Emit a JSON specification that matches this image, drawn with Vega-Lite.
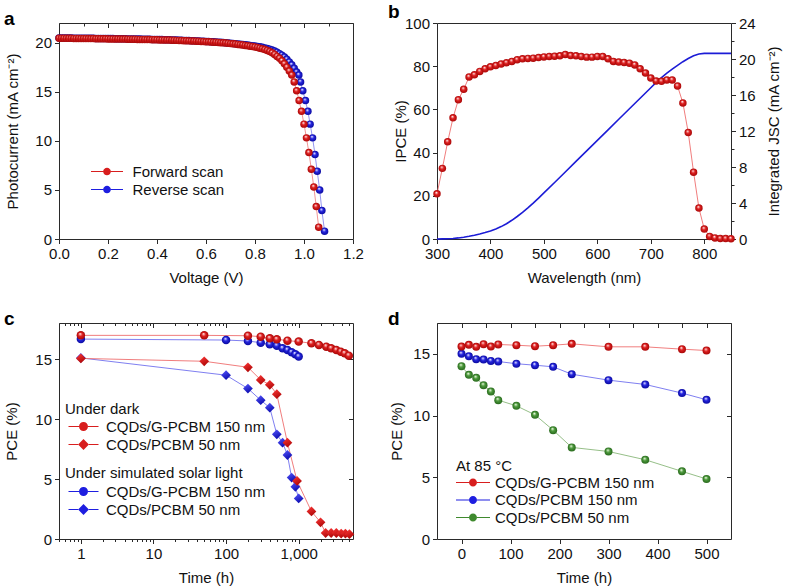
{
"$schema": "https://vega.github.io/schema/vega-lite/v6.json",
"padding": {"left": 3, "top": 2, "right": 2, "bottom": 0},
"background": "white",
"config": {
 "font": "Liberation Sans",
 "view": {"stroke": "#2a2a2a", "strokeWidth": 1},
 "axis": {"grid": false, "domain": false, "tickColor": "#2a2a2a", "tickWidth": 1, "labelFontSize": 15, "titleFontSize": 15, "titleFontWeight": "normal", "labelColor": "#111", "titleColor": "#111", "labelPadding": 3, "titlePadding": 6, "labelOverlap": false, "labelFlush": false},
 "axisBottom": {"titlePadding": 9},
 "legend": {"labelFontSize": 15, "titleFontSize": 15, "titleFontWeight": "normal", "labelColor": "#111", "titleColor": "#111", "labelLimit": 300, "titleLimit": 400, "padding": 0, "symbolStrokeWidth": 0, "symbolOpacity": 1, "clipHeight": 17, "rowPadding": 1},
 "title": {"fontSize": 19, "fontWeight": "bold", "anchor": "start", "frame": "group", "offset": -6, "color": "#000"}
},
"columns": 2,
"spacing": 84,
"bounds": "flush",
"resolve": {"scale": {"fill": "independent", "stroke": "independent", "shape": "independent", "size": "independent"}, "legend": {"fill": "independent", "stroke": "independent", "shape": "independent", "size": "independent"}},
"datasets": {
 "jv": [
  {"s":"R","v":0.00,"j":20.48},{"s":"R","v":0.01,"j":20.48},{"s":"R","v":0.02,"j":20.48},{"s":"R","v":0.03,"j":20.47},{"s":"R","v":0.04,"j":20.47},{"s":"R","v":0.05,"j":20.47},{"s":"R","v":0.06,"j":20.46},{"s":"R","v":0.07,"j":20.46},{"s":"R","v":0.08,"j":20.46},{"s":"R","v":0.09,"j":20.45},
  {"s":"R","v":0.10,"j":20.45},{"s":"R","v":0.11,"j":20.45},{"s":"R","v":0.12,"j":20.44},{"s":"R","v":0.13,"j":20.44},{"s":"R","v":0.14,"j":20.44},{"s":"R","v":0.15,"j":20.43},{"s":"R","v":0.16,"j":20.43},{"s":"R","v":0.17,"j":20.43},{"s":"R","v":0.18,"j":20.42},{"s":"R","v":0.19,"j":20.42},
  {"s":"R","v":0.20,"j":20.41},{"s":"R","v":0.21,"j":20.41},{"s":"R","v":0.22,"j":20.41},{"s":"R","v":0.23,"j":20.40},{"s":"R","v":0.24,"j":20.40},{"s":"R","v":0.25,"j":20.39},{"s":"R","v":0.26,"j":20.39},{"s":"R","v":0.27,"j":20.39},{"s":"R","v":0.28,"j":20.38},{"s":"R","v":0.29,"j":20.38},
  {"s":"R","v":0.30,"j":20.37},{"s":"R","v":0.31,"j":20.37},{"s":"R","v":0.32,"j":20.36},{"s":"R","v":0.33,"j":20.36},{"s":"R","v":0.34,"j":20.35},{"s":"R","v":0.35,"j":20.35},{"s":"R","v":0.36,"j":20.34},{"s":"R","v":0.37,"j":20.34},{"s":"R","v":0.38,"j":20.33},{"s":"R","v":0.39,"j":20.33},
  {"s":"R","v":0.40,"j":20.32},{"s":"R","v":0.41,"j":20.31},{"s":"R","v":0.42,"j":20.31},{"s":"R","v":0.43,"j":20.30},{"s":"R","v":0.44,"j":20.29},{"s":"R","v":0.45,"j":20.29},{"s":"R","v":0.46,"j":20.28},{"s":"R","v":0.47,"j":20.27},{"s":"R","v":0.48,"j":20.26},{"s":"R","v":0.49,"j":20.25},
  {"s":"R","v":0.50,"j":20.24},{"s":"R","v":0.51,"j":20.23},{"s":"R","v":0.52,"j":20.22},{"s":"R","v":0.53,"j":20.21},{"s":"R","v":0.54,"j":20.20},{"s":"R","v":0.55,"j":20.19},{"s":"R","v":0.56,"j":20.18},{"s":"R","v":0.57,"j":20.17},{"s":"R","v":0.58,"j":20.15},{"s":"R","v":0.59,"j":20.14},
  {"s":"R","v":0.60,"j":20.12},{"s":"R","v":0.61,"j":20.11},{"s":"R","v":0.62,"j":20.10},{"s":"R","v":0.63,"j":20.08},{"s":"R","v":0.64,"j":20.07},{"s":"R","v":0.65,"j":20.05},{"s":"R","v":0.66,"j":20.03},{"s":"R","v":0.67,"j":20.01},{"s":"R","v":0.68,"j":19.99},{"s":"R","v":0.69,"j":19.96},
  {"s":"R","v":0.70,"j":19.93},{"s":"R","v":0.71,"j":19.91},{"s":"R","v":0.72,"j":19.88},{"s":"R","v":0.73,"j":19.86},{"s":"R","v":0.74,"j":19.83},{"s":"R","v":0.75,"j":19.81},{"s":"R","v":0.76,"j":19.78},{"s":"R","v":0.77,"j":19.75},{"s":"R","v":0.78,"j":19.72},{"s":"R","v":0.79,"j":19.69},
  {"s":"R","v":0.80,"j":19.65},{"s":"R","v":0.81,"j":19.61},{"s":"R","v":0.82,"j":19.57},{"s":"R","v":0.83,"j":19.52},{"s":"R","v":0.84,"j":19.46},{"s":"R","v":0.85,"j":19.40},{"s":"R","v":0.86,"j":19.33},{"s":"R","v":0.87,"j":19.24},{"s":"R","v":0.88,"j":19.14},{"s":"R","v":0.89,"j":19.02},
  {"s":"R","v":0.90,"j":18.88},{"s":"R","v":0.91,"j":18.72},{"s":"R","v":0.92,"j":18.53},{"s":"R","v":0.93,"j":18.30},{"s":"R","v":0.94,"j":18.04},{"s":"R","v":0.95,"j":17.74},{"s":"R","v":0.96,"j":17.38},{"s":"R","v":0.97,"j":17.00},{"s":"R","v":0.979,"j":16.7},{"s":"R","v":0.986,"j":16.0},
  {"s":"R","v":0.995,"j":15.1},{"s":"R","v":1.006,"j":14.1},{"s":"R","v":1.016,"j":13.0},{"s":"R","v":1.025,"j":11.7},{"s":"R","v":1.035,"j":10.3},{"s":"R","v":1.045,"j":8.6},{"s":"R","v":1.054,"j":6.9},{"s":"R","v":1.064,"j":5.0},{"s":"R","v":1.073,"j":2.9},{"s":"R","v":1.084,"j":0.8},
  {"s":"F","v":0.00,"j":20.45},{"s":"F","v":0.01,"j":20.45},{"s":"F","v":0.02,"j":20.45},{"s":"F","v":0.03,"j":20.44},{"s":"F","v":0.04,"j":20.44},{"s":"F","v":0.05,"j":20.44},{"s":"F","v":0.06,"j":20.43},{"s":"F","v":0.07,"j":20.43},{"s":"F","v":0.08,"j":20.43},{"s":"F","v":0.09,"j":20.42},
  {"s":"F","v":0.10,"j":20.42},{"s":"F","v":0.11,"j":20.42},{"s":"F","v":0.12,"j":20.41},{"s":"F","v":0.13,"j":20.41},{"s":"F","v":0.14,"j":20.41},{"s":"F","v":0.15,"j":20.40},{"s":"F","v":0.16,"j":20.40},{"s":"F","v":0.17,"j":20.40},{"s":"F","v":0.18,"j":20.39},{"s":"F","v":0.19,"j":20.39},
  {"s":"F","v":0.20,"j":20.38},{"s":"F","v":0.21,"j":20.38},{"s":"F","v":0.22,"j":20.38},{"s":"F","v":0.23,"j":20.37},{"s":"F","v":0.24,"j":20.37},{"s":"F","v":0.25,"j":20.36},{"s":"F","v":0.26,"j":20.36},{"s":"F","v":0.27,"j":20.36},{"s":"F","v":0.28,"j":20.35},{"s":"F","v":0.29,"j":20.35},
  {"s":"F","v":0.30,"j":20.34},{"s":"F","v":0.31,"j":20.34},{"s":"F","v":0.32,"j":20.33},{"s":"F","v":0.33,"j":20.33},{"s":"F","v":0.34,"j":20.32},{"s":"F","v":0.35,"j":20.32},{"s":"F","v":0.36,"j":20.31},{"s":"F","v":0.37,"j":20.31},{"s":"F","v":0.38,"j":20.30},{"s":"F","v":0.39,"j":20.30},
  {"s":"F","v":0.40,"j":20.29},{"s":"F","v":0.41,"j":20.28},{"s":"F","v":0.42,"j":20.28},{"s":"F","v":0.43,"j":20.27},{"s":"F","v":0.44,"j":20.26},{"s":"F","v":0.45,"j":20.26},{"s":"F","v":0.46,"j":20.25},{"s":"F","v":0.47,"j":20.24},{"s":"F","v":0.48,"j":20.23},{"s":"F","v":0.49,"j":20.22},
  {"s":"F","v":0.50,"j":20.21},{"s":"F","v":0.51,"j":20.20},{"s":"F","v":0.52,"j":20.19},{"s":"F","v":0.53,"j":20.18},{"s":"F","v":0.54,"j":20.17},{"s":"F","v":0.55,"j":20.16},{"s":"F","v":0.56,"j":20.15},{"s":"F","v":0.57,"j":20.14},{"s":"F","v":0.58,"j":20.12},{"s":"F","v":0.59,"j":20.11},
  {"s":"F","v":0.60,"j":20.09},{"s":"F","v":0.61,"j":20.08},{"s":"F","v":0.62,"j":20.07},{"s":"F","v":0.63,"j":20.05},{"s":"F","v":0.64,"j":20.04},{"s":"F","v":0.65,"j":20.02},{"s":"F","v":0.66,"j":20.00},{"s":"F","v":0.67,"j":19.98},{"s":"F","v":0.68,"j":19.96},{"s":"F","v":0.69,"j":19.93},
  {"s":"F","v":0.70,"j":19.90},{"s":"F","v":0.71,"j":19.88},{"s":"F","v":0.72,"j":19.85},{"s":"F","v":0.73,"j":19.82},{"s":"F","v":0.74,"j":19.79},{"s":"F","v":0.75,"j":19.76},{"s":"F","v":0.76,"j":19.72},{"s":"F","v":0.77,"j":19.68},{"s":"F","v":0.78,"j":19.64},{"s":"F","v":0.79,"j":19.60},
  {"s":"F","v":0.80,"j":19.55},{"s":"F","v":0.81,"j":19.50},{"s":"F","v":0.82,"j":19.44},{"s":"F","v":0.83,"j":19.37},{"s":"F","v":0.84,"j":19.29},{"s":"F","v":0.85,"j":19.20},{"s":"F","v":0.86,"j":19.09},{"s":"F","v":0.87,"j":18.96},{"s":"F","v":0.88,"j":18.80},{"s":"F","v":0.89,"j":18.60},
  {"s":"F","v":0.90,"j":18.40},{"s":"F","v":0.91,"j":18.15},{"s":"F","v":0.92,"j":17.85},{"s":"F","v":0.93,"j":17.50},{"s":"F","v":0.94,"j":17.10},{"s":"F","v":0.95,"j":16.70},{"s":"F","v":0.96,"j":16.00},{"s":"F","v":0.97,"j":15.10},{"s":"F","v":0.98,"j":14.10},{"s":"F","v":0.99,"j":13.00},
  {"s":"F","v":1.00,"j":11.70},{"s":"F","v":1.01,"j":10.30},{"s":"F","v":1.02,"j":8.80},{"s":"F","v":1.03,"j":7.10},{"s":"F","v":1.04,"j":5.30},{"s":"F","v":1.05,"j":3.30},{"s":"F","v":1.06,"j":1.20}
 ],
 "ipce": [
  {"w":300,"q":20.9},{"w":310,"q":32.7},{"w":320,"q":45.0},{"w":330,"q":56.1},{"w":340,"q":64.5},{"w":350,"q":69.3},{"w":360,"q":75.0},{"w":370,"q":76.0},{"w":380,"q":77.6},{"w":390,"q":78.8},
  {"w":400,"q":79.7},{"w":410,"q":80.3},{"w":420,"q":81.0},{"w":430,"q":81.6},{"w":440,"q":82.2},{"w":450,"q":83.0},{"w":460,"q":83.4},{"w":470,"q":83.6},{"w":480,"q":83.7},{"w":490,"q":84.0},
  {"w":500,"q":84.3},{"w":510,"q":84.5},{"w":520,"q":84.6},{"w":530,"q":84.8},{"w":540,"q":85.4},{"w":550,"q":84.9},{"w":560,"q":84.8},{"w":570,"q":84.5},{"w":580,"q":84.2},{"w":590,"q":84.2},
  {"w":600,"q":84.5},{"w":610,"q":84.5},{"w":620,"q":83.4},{"w":630,"q":82.2},{"w":640,"q":81.9},{"w":650,"q":81.7},{"w":660,"q":81.4},{"w":670,"q":80.6},{"w":680,"q":78.8},{"w":690,"q":76.8},
  {"w":700,"q":74.5},{"w":710,"q":73.1},{"w":720,"q":73.0},{"w":730,"q":73.6},{"w":740,"q":73.6},{"w":750,"q":70.8},{"w":760,"q":63.0},{"w":770,"q":49.3},{"w":780,"q":30.9},{"w":790,"q":14.3},
  {"w":800,"q":4.6},{"w":810,"q":1.2},{"w":820,"q":0.5},{"w":830,"q":0.2},{"w":840,"q":0.2},{"w":850,"q":0.1}
 ],
 "jsc": [
  {"w":300,"c":0},{"w":310,"c":0.01},{"w":320,"c":0.03},{"w":330,"c":0.06},{"w":340,"c":0.12},{"w":350,"c":0.2},{"w":360,"c":0.3},{"w":370,"c":0.42},{"w":380,"c":0.56},{"w":390,"c":0.72},
  {"w":400,"c":0.9},{"w":410,"c":1.12},{"w":420,"c":1.38},{"w":430,"c":1.7},{"w":440,"c":2.08},{"w":450,"c":2.5},{"w":460,"c":2.95},{"w":470,"c":3.45},{"w":480,"c":3.98},{"w":490,"c":4.55},
  {"w":500,"c":5.12},{"w":520,"c":6.28},{"w":540,"c":7.45},{"w":560,"c":8.62},{"w":580,"c":9.79},{"w":600,"c":10.96},{"w":620,"c":12.13},{"w":640,"c":13.3},{"w":660,"c":14.47},{"w":680,"c":15.64},
  {"w":700,"c":16.8},{"w":710,"c":17.4},{"w":720,"c":17.93},{"w":730,"c":18.42},{"w":740,"c":18.88},{"w":750,"c":19.3},{"w":760,"c":19.7},{"w":770,"c":20.05},{"w":780,"c":20.35},{"w":790,"c":20.55},
  {"w":800,"c":20.62},{"w":850,"c":20.62}
 ],
 "stab": [
  {"cond":"light","lab":"CQDs/G-PCBM 150 nm","ser":"lG","t":1,"p":16.66},{"cond":"light","lab":"CQDs/G-PCBM 150 nm","ser":"lG","t":100,"p":16.58},{"cond":"light","lab":"CQDs/G-PCBM 150 nm","ser":"lG","t":200,"p":16.5},{"cond":"light","lab":"CQDs/G-PCBM 150 nm","ser":"lG","t":300,"p":16.36},{"cond":"light","lab":"CQDs/G-PCBM 150 nm","ser":"lG","t":400,"p":16.22},{"cond":"light","lab":"CQDs/G-PCBM 150 nm","ser":"lG","t":500,"p":16.11},{"cond":"light","lab":"CQDs/G-PCBM 150 nm","ser":"lG","t":600,"p":15.89},{"cond":"light","lab":"CQDs/G-PCBM 150 nm","ser":"lG","t":700,"p":15.75},{"cond":"light","lab":"CQDs/G-PCBM 150 nm","ser":"lG","t":800,"p":15.56},{"cond":"light","lab":"CQDs/G-PCBM 150 nm","ser":"lG","t":900,"p":15.39},{"cond":"light","lab":"CQDs/G-PCBM 150 nm","ser":"lG","t":1000,"p":15.2},
  {"cond":"light","lab":"CQDs/PCBM 50 nm","ser":"lP","t":1,"p":15.09},{"cond":"light","lab":"CQDs/PCBM 50 nm","ser":"lP","t":100,"p":13.65},{"cond":"light","lab":"CQDs/PCBM 50 nm","ser":"lP","t":200,"p":12.54},{"cond":"light","lab":"CQDs/PCBM 50 nm","ser":"lP","t":300,"p":11.57},{"cond":"light","lab":"CQDs/PCBM 50 nm","ser":"lP","t":400,"p":10.94},{"cond":"light","lab":"CQDs/PCBM 50 nm","ser":"lP","t":500,"p":8.72},{"cond":"light","lab":"CQDs/PCBM 50 nm","ser":"lP","t":600,"p":8.03},{"cond":"light","lab":"CQDs/PCBM 50 nm","ser":"lP","t":700,"p":7.0},{"cond":"light","lab":"CQDs/PCBM 50 nm","ser":"lP","t":800,"p":5.12},{"cond":"light","lab":"CQDs/PCBM 50 nm","ser":"lP","t":900,"p":4.35},{"cond":"light","lab":"CQDs/PCBM 50 nm","ser":"lP","t":1000,"p":3.38},
  {"cond":"dark","lab":"CQDs/G-PCBM 150 nm","ser":"dG","t":1,"p":16.97},{"cond":"dark","lab":"CQDs/G-PCBM 150 nm","ser":"dG","t":50,"p":16.97},{"cond":"dark","lab":"CQDs/G-PCBM 150 nm","ser":"dG","t":200,"p":16.94},{"cond":"dark","lab":"CQDs/G-PCBM 150 nm","ser":"dG","t":300,"p":16.86},{"cond":"dark","lab":"CQDs/G-PCBM 150 nm","ser":"dG","t":400,"p":16.72},{"cond":"dark","lab":"CQDs/G-PCBM 150 nm","ser":"dG","t":500,"p":16.64},{"cond":"dark","lab":"CQDs/G-PCBM 150 nm","ser":"dG","t":700,"p":16.53},{"cond":"dark","lab":"CQDs/G-PCBM 150 nm","ser":"dG","t":1000,"p":16.45},{"cond":"dark","lab":"CQDs/G-PCBM 150 nm","ser":"dG","t":1500,"p":16.31},{"cond":"dark","lab":"CQDs/G-PCBM 150 nm","ser":"dG","t":1900,"p":16.17},{"cond":"dark","lab":"CQDs/G-PCBM 150 nm","ser":"dG","t":2400,"p":16.03},{"cond":"dark","lab":"CQDs/G-PCBM 150 nm","ser":"dG","t":2800,"p":15.89},{"cond":"dark","lab":"CQDs/G-PCBM 150 nm","ser":"dG","t":3300,"p":15.75},{"cond":"dark","lab":"CQDs/G-PCBM 150 nm","ser":"dG","t":3800,"p":15.61},{"cond":"dark","lab":"CQDs/G-PCBM 150 nm","ser":"dG","t":4300,"p":15.47},{"cond":"dark","lab":"CQDs/G-PCBM 150 nm","ser":"dG","t":4900,"p":15.28},
  {"cond":"dark","lab":"CQDs/PCBM 50 nm","ser":"dP","t":1,"p":15.05},{"cond":"dark","lab":"CQDs/PCBM 50 nm","ser":"dP","t":50,"p":14.81},{"cond":"dark","lab":"CQDs/PCBM 50 nm","ser":"dP","t":200,"p":14.31},{"cond":"dark","lab":"CQDs/PCBM 50 nm","ser":"dP","t":300,"p":13.26},{"cond":"dark","lab":"CQDs/PCBM 50 nm","ser":"dP","t":400,"p":12.85},{"cond":"dark","lab":"CQDs/PCBM 50 nm","ser":"dP","t":500,"p":12.07},{"cond":"dark","lab":"CQDs/PCBM 50 nm","ser":"dP","t":700,"p":8.03},{"cond":"dark","lab":"CQDs/PCBM 50 nm","ser":"dP","t":950,"p":4.84},{"cond":"dark","lab":"CQDs/PCBM 50 nm","ser":"dP","t":1500,"p":2.3},{"cond":"dark","lab":"CQDs/PCBM 50 nm","ser":"dP","t":2000,"p":1.39},{"cond":"dark","lab":"CQDs/PCBM 50 nm","ser":"dP","t":2350,"p":0.5},{"cond":"dark","lab":"CQDs/PCBM 50 nm","ser":"dP","t":2800,"p":0.5},{"cond":"dark","lab":"CQDs/PCBM 50 nm","ser":"dP","t":3300,"p":0.5},{"cond":"dark","lab":"CQDs/PCBM 50 nm","ser":"dP","t":3850,"p":0.45},{"cond":"dark","lab":"CQDs/PCBM 50 nm","ser":"dP","t":4400,"p":0.45},{"cond":"dark","lab":"CQDs/PCBM 50 nm","ser":"dP","t":5000,"p":0.4}
 ],
 "heat": [
  {"lab":"CQDs/PCBM 50 nm","h":0,"p":14.0},{"lab":"CQDs/PCBM 50 nm","h":15,"p":13.3},{"lab":"CQDs/PCBM 50 nm","h":30,"p":13.06},{"lab":"CQDs/PCBM 50 nm","h":45,"p":12.46},{"lab":"CQDs/PCBM 50 nm","h":60,"p":11.95},{"lab":"CQDs/PCBM 50 nm","h":75,"p":11.25},{"lab":"CQDs/PCBM 50 nm","h":112,"p":10.79},{"lab":"CQDs/PCBM 50 nm","h":150,"p":10.06},{"lab":"CQDs/PCBM 50 nm","h":187,"p":8.82},{"lab":"CQDs/PCBM 50 nm","h":225,"p":7.42},{"lab":"CQDs/PCBM 50 nm","h":300,"p":7.09},{"lab":"CQDs/PCBM 50 nm","h":375,"p":6.42},{"lab":"CQDs/PCBM 50 nm","h":450,"p":5.48},{"lab":"CQDs/PCBM 50 nm","h":500,"p":4.86},
  {"lab":"CQDs/PCBM 150 nm","h":0,"p":15.0},{"lab":"CQDs/PCBM 150 nm","h":15,"p":14.8},{"lab":"CQDs/PCBM 150 nm","h":30,"p":14.57},{"lab":"CQDs/PCBM 150 nm","h":45,"p":14.54},{"lab":"CQDs/PCBM 150 nm","h":60,"p":14.43},{"lab":"CQDs/PCBM 150 nm","h":75,"p":14.38},{"lab":"CQDs/PCBM 150 nm","h":112,"p":14.2},{"lab":"CQDs/PCBM 150 nm","h":150,"p":14.08},{"lab":"CQDs/PCBM 150 nm","h":187,"p":13.95},{"lab":"CQDs/PCBM 150 nm","h":225,"p":13.35},{"lab":"CQDs/PCBM 150 nm","h":300,"p":12.87},{"lab":"CQDs/PCBM 150 nm","h":375,"p":12.52},{"lab":"CQDs/PCBM 150 nm","h":450,"p":11.82},{"lab":"CQDs/PCBM 150 nm","h":500,"p":11.28},
  {"lab":"CQDs/G-PCBM 150 nm","h":0,"p":15.59},{"lab":"CQDs/G-PCBM 150 nm","h":15,"p":15.73},{"lab":"CQDs/G-PCBM 150 nm","h":30,"p":15.57},{"lab":"CQDs/G-PCBM 150 nm","h":45,"p":15.78},{"lab":"CQDs/G-PCBM 150 nm","h":60,"p":15.59},{"lab":"CQDs/G-PCBM 150 nm","h":75,"p":15.76},{"lab":"CQDs/G-PCBM 150 nm","h":112,"p":15.7},{"lab":"CQDs/G-PCBM 150 nm","h":150,"p":15.62},{"lab":"CQDs/G-PCBM 150 nm","h":187,"p":15.7},{"lab":"CQDs/G-PCBM 150 nm","h":225,"p":15.81},{"lab":"CQDs/G-PCBM 150 nm","h":300,"p":15.57},{"lab":"CQDs/G-PCBM 150 nm","h":375,"p":15.57},{"lab":"CQDs/G-PCBM 150 nm","h":450,"p":15.38},{"lab":"CQDs/G-PCBM 150 nm","h":500,"p":15.27}
 ]
},
"concat": [
 {
  "width": 294, "height": 216,
  "title": {"text": "a", "dx": -55},
  "data": {"name": "jv"},
  "layer": [
   {"layer": [
    {"mark": {"type": "line", "strokeWidth": 0.8},
     "encoding": {
      "x": {"field": "v", "type": "quantitative", "title": "Voltage (V)", "scale": {"domain": [0, 1.2], "nice": false},
            "axis": {"labelOverlap": false, "values": [0,0.1,0.2,0.3,0.4,0.5,0.6,0.7,0.8,0.9,1.0,1.1,1.2], "labelExpr": "round(datum.value*10) % 2 === 0 ? format(datum.value, '.1f') : ''", "tickSize": {"condition": {"test": "round(datum.value*10) % 2 !== 0", "value": 3}, "value": 4.5}}},
      "y": {"field": "j", "type": "quantitative", "title": "Photocurrent (mA cm⁻²)", "scale": {"domain": [0, 22], "nice": false},
            "axis": {"labelOverlap": false, "titlePadding": 14, "values": [0,2.5,5,7.5,10,12.5,15,17.5,20], "labelExpr": "datum.value % 5 === 0 ? datum.value : ''", "tickSize": {"condition": {"test": "datum.value % 5 !== 0", "value": 3}, "value": 4.5}}},
      "stroke": {"field": "s", "type": "nominal", "scale": {"domain": ["R", "F"], "range": ["#7a7aee", "#ee7a7a"]}, "legend": null}
     }},
    {"mark": {"type": "point", "filled": true, "size": 56, "strokeWidth": 0, "opacity": 0},
     "encoding": {
      "x": {"field": "v", "type": "quantitative"},
      "y": {"field": "j", "type": "quantitative"},
      "fill": {"field": "s", "type": "nominal", "scale": {"domain": ["F", "R"], "range": ["#d81e1e", "#1e1ee0"]},
        "legend": {"title": null, "orient": "none", "legendX": 32, "legendY": 140, "symbolSize": 1024, "labelOffset": 9.5,
          "symbolType": "M-1,-0.035H-0.24V0.035H-1ZM0.24,-0.035H1V0.035H0.24ZM0.24,0A0.24,0.24 0 1 1 -0.24,0A0.24,0.24 0 1 1 0.24,0Z",
          "labelExpr": "datum.label === 'F' ? 'Forward scan' : 'Reverse scan'"}}
     }},
    {"mark": {"type": "point", "filled": true, "size": 56, "strokeWidth": 0, "opacity": 1},
     "encoding": {
      "x": {"field": "v", "type": "quantitative"},
      "y": {"field": "j", "type": "quantitative"},
      "fill": {"condition": {"test": "datum.s === 'F'", "value": {"gradient":"radial","x1":0.4,"y1":0.3,"r1":0,"x2":0.5,"y2":0.5,"r2":0.5,"stops":[{"offset":0,"color":"#ffffff"},{"offset":0.2,"color":"#f4a0a0"},{"offset":0.45,"color":"#e02020"},{"offset":1,"color":"#a80808"}]}},
               "value": {"gradient":"radial","x1":0.4,"y1":0.3,"r1":0,"x2":0.5,"y2":0.5,"r2":0.5,"stops":[{"offset":0,"color":"#ffffff"},{"offset":0.2,"color":"#a8a8f8"},{"offset":0.45,"color":"#2424e0"},{"offset":1,"color":"#0c0ca0"}]}}
     }}
   ]},
   {"mark": {"type": "point", "opacity": 0},
    "encoding": {
     "x": {"field": "v", "type": "quantitative", "scale": {"domain": [0, 1.2], "nice": false},
           "axis": {"orient": "top", "labels": false, "title": null, "values": [0,0.1,0.2,0.3,0.4,0.5,0.6,0.7,0.8,0.9,1.0,1.1,1.2], "tickSize": {"condition": {"test": "round(datum.value*10) % 2 !== 0", "value": -3}, "value": -4.5}}}
    }}
  ],
  "resolve": {"scale": {"x": "independent"}}
 },
 {
  "width": 294, "height": 216,
  "title": {"text": "b", "dx": -49},
  "layer": [
   {"data": {"name": "jsc"}, "mark": {"type": "line", "color": "#1c1cd6", "strokeWidth": 1.6},
    "encoding": {
     "x": {"field": "w", "type": "quantitative", "title": "Wavelength (nm)", "scale": {"domain": [300, 850], "nice": false},
           "axis": {"labelOverlap": false, "values": [300,350,400,450,500,550,600,650,700,750,800,850], "labelExpr": "datum.value % 100 === 0 ? datum.value : ''", "tickSize": {"condition": {"test": "datum.value % 100 !== 0", "value": 3}, "value": 4.5}}},
     "y": {"field": "c", "type": "quantitative", "title": "Integrated JSC (mA cm⁻²)", "scale": {"domain": [0, 24], "nice": false},
           "axis": {"labelOverlap": false, "orient": "right", "titleAngle": 270, "titleBaseline": "top", "titlePadding": 11, "values": [0,2,4,6,8,10,12,14,16,18,20,22,24], "labelExpr": "datum.value % 4 === 0 ? datum.value : ''", "tickSize": {"condition": {"test": "datum.value % 4 !== 0", "value": 3}, "value": 4.5}}}
    }},
   {"data": {"name": "ipce"},
    "layer": [
     {"mark": {"type": "line", "color": "#ee6e6e", "strokeWidth": 0.9},
      "encoding": {
       "x": {"field": "w", "type": "quantitative"},
       "y": {"field": "q", "type": "quantitative", "title": "IPCE (%)", "scale": {"domain": [0, 100], "nice": false},
             "axis": {"labelOverlap": false, "orient": "left", "titlePadding": -4, "values": [0,10,20,30,40,50,60,70,80,90,100], "labelExpr": "datum.value % 20 === 0 ? datum.value : ''", "tickSize": {"condition": {"test": "datum.value % 20 !== 0", "value": 3}, "value": 4.5}}}
      }},
     {"mark": {"type": "point", "filled": true, "size": 56, "strokeWidth": 0, "opacity": 1,
        "fill": {"gradient":"radial","x1":0.4,"y1":0.3,"r1":0,"x2":0.5,"y2":0.5,"r2":0.5,"stops":[{"offset":0,"color":"#ffffff"},{"offset":0.2,"color":"#f4a0a0"},{"offset":0.45,"color":"#e02020"},{"offset":1,"color":"#a80808"}]}},
      "encoding": {
       "x": {"field": "w", "type": "quantitative"},
       "y": {"field": "q", "type": "quantitative"}
      }}
    ]}
  ],
  "resolve": {"scale": {"y": "independent"}}
 },
 {
  "width": 294, "height": 216,
  "title": {"text": "c", "dx": -55},
  "layer": [
   {"layer": [
    {"mark": {"type": "rule", "strokeDash": [6, 4], "strokeWidth": 1.3, "color": "#222"},
     "encoding": {"y": {"datum": 15, "type": "quantitative", "title": "PCE (%)"}}},
    {"data": {"name": "stab"}, "mark": {"type": "line", "strokeWidth": 0.9},
     "encoding": {
      "x": {"field": "t", "type": "quantitative", "title": "Time (h)", "scale": {"type": "log", "domain": [0.5, 5600], "nice": false},
            "axis": {"labelOverlap": false, "values": [0.5,0.6,0.7,0.8,0.9,1,2,3,4,5,6,7,8,9,10,20,30,40,50,60,70,80,90,100,200,300,400,500,600,700,800,900,1000,2000,3000,4000,5000],
                     "labelExpr": "indexof([1,10,100,1000], datum.value) >= 0 ? format(datum.value, ',') : ''",
                     "tickSize": {"condition": {"test": "indexof([1,10,100,1000], datum.value) < 0", "value": 2.5}, "value": 4.5}}},
      "y": {"field": "p", "type": "quantitative", "title": "PCE (%)", "scale": {"domain": [0, 18], "nice": false},
            "axis": {"labelOverlap": false, "titlePadding": 15, "values": [0,2.5,5,7.5,10,12.5,15,17.5], "labelExpr": "datum.value % 5 === 0 ? datum.value : ''", "tickSize": {"condition": {"test": "datum.value % 5 !== 0", "value": 3}, "value": 4.5}}},
      "detail": {"field": "ser", "type": "nominal"},
      "stroke": {"field": "cond", "type": "nominal", "scale": {"domain": ["dark", "light"], "range": ["#ee6e6e", "#7070ee"]}, "legend": null}
     }},
    {"data": {"name": "stab"}, "transform": [{"filter": "datum.cond === 'light'"}],
     "mark": {"type": "point", "filled": true, "size": 72, "strokeWidth": 0, "opacity": 0},
     "encoding": {
      "x": {"field": "t", "type": "quantitative"},
      "y": {"field": "p", "type": "quantitative"},
      "fill": {"field": "lab", "type": "nominal", "scale": {"domain": ["CQDs/G-PCBM 150 nm", "CQDs/PCBM 50 nm"], "range": ["#1e1ee0", "#1e1ee0"]},
        "legend": {"title": "Under simulated solar light", "orient": "none", "legendX": 6, "legendY": 143, "symbolSize": 900, "symbolOffset": 3.5, "labelOffset": 7.5, "titlePadding": 2}},
      "shape": {"field": "lab", "type": "nominal", "scale": {"domain": ["CQDs/G-PCBM 150 nm", "CQDs/PCBM 50 nm"], "range": ["M-1,-0.035H-0.3V0.035H-1ZM0.3,-0.035H1V0.035H0.3ZM0.3,0A0.3,0.3 0 1 1 -0.3,0A0.3,0.3 0 1 1 0.3,0Z", "M-1,-0.035H-0.36V0.035H-1ZM0.36,-0.035H1V0.035H0.36ZM-0.36,0L0,-0.36L0.36,0L0,0.36Z"]},
        "legend": {"title": "Under simulated solar light", "orient": "none", "legendX": 6, "legendY": 143, "symbolSize": 900, "symbolOffset": 3.5, "labelOffset": 7.5, "titlePadding": 2}}
     }},
    {"data": {"name": "stab"}, "transform": [{"filter": "datum.cond === 'light'"}],
     "mark": {"type": "point", "filled": true, "size": 72, "strokeWidth": 0, "opacity": 1},
     "encoding": {
      "x": {"field": "t", "type": "quantitative"},
      "y": {"field": "p", "type": "quantitative"},
      "shape": {"condition": {"test": "datum.lab === 'CQDs/PCBM 50 nm'", "value": "M-1.15,0L0,-1.15L1.15,0L0,1.15Z"}, "value": "circle"},
      "fill": {"condition": {"test": "datum.lab === 'CQDs/PCBM 50 nm'", "value": {"gradient":"linear","x1":0.3,"y1":0.1,"x2":0.7,"y2":0.9,"stops":[{"offset":0,"color":"#4a4af0"},{"offset":1,"color":"#0c0cb0"}]}},
               "value": {"gradient":"radial","x1":0.4,"y1":0.3,"r1":0,"x2":0.5,"y2":0.5,"r2":0.5,"stops":[{"offset":0,"color":"#ffffff"},{"offset":0.2,"color":"#a8a8f8"},{"offset":0.45,"color":"#2424e0"},{"offset":1,"color":"#0c0ca0"}]}}
     }},
    {"data": {"name": "stab"}, "transform": [{"filter": "datum.cond === 'dark'"}],
     "mark": {"type": "point", "filled": true, "size": 72, "strokeWidth": 0, "opacity": 0},
     "encoding": {
      "x": {"field": "t", "type": "quantitative"},
      "y": {"field": "p", "type": "quantitative"},
      "fill": {"field": "lab", "type": "nominal", "scale": {"domain": ["CQDs/G-PCBM 150 nm", "CQDs/PCBM 50 nm"], "range": ["#d81e1e", "#d81e1e"]},
        "legend": {"title": "Under dark", "orient": "none", "legendX": 6, "legendY": 79, "symbolSize": 900, "symbolOffset": 3.5, "labelOffset": 7.5, "titlePadding": 1}},
      "shape": {"field": "lab", "type": "nominal", "scale": {"domain": ["CQDs/G-PCBM 150 nm", "CQDs/PCBM 50 nm"], "range": ["M-1,-0.035H-0.3V0.035H-1ZM0.3,-0.035H1V0.035H0.3ZM0.3,0A0.3,0.3 0 1 1 -0.3,0A0.3,0.3 0 1 1 0.3,0Z", "M-1,-0.035H-0.36V0.035H-1ZM0.36,-0.035H1V0.035H0.36ZM-0.36,0L0,-0.36L0.36,0L0,0.36Z"]},
        "legend": {"title": "Under dark", "orient": "none", "legendX": 6, "legendY": 79, "symbolSize": 900, "symbolOffset": 3.5, "labelOffset": 7.5, "titlePadding": 1}}
     }},
    {"data": {"name": "stab"}, "transform": [{"filter": "datum.cond === 'dark'"}],
     "mark": {"type": "point", "filled": true, "size": 72, "strokeWidth": 0, "opacity": 1},
     "encoding": {
      "x": {"field": "t", "type": "quantitative"},
      "y": {"field": "p", "type": "quantitative"},
      "shape": {"condition": {"test": "datum.lab === 'CQDs/PCBM 50 nm'", "value": "M-1.15,0L0,-1.15L1.15,0L0,1.15Z"}, "value": "circle"},
      "fill": {"condition": {"test": "datum.lab === 'CQDs/PCBM 50 nm'", "value": {"gradient":"linear","x1":0.3,"y1":0.1,"x2":0.7,"y2":0.9,"stops":[{"offset":0,"color":"#f03030"},{"offset":1,"color":"#b00808"}]}},
               "value": {"gradient":"radial","x1":0.4,"y1":0.3,"r1":0,"x2":0.5,"y2":0.5,"r2":0.5,"stops":[{"offset":0,"color":"#ffffff"},{"offset":0.2,"color":"#f4a0a0"},{"offset":0.45,"color":"#e02020"},{"offset":1,"color":"#a80808"}]}}
     }}
   ],
   "resolve": {"scale": {"fill": "independent", "shape": "independent", "stroke": "independent"}, "legend": {"fill": "independent", "shape": "independent", "stroke": "independent"}}},
   {"data": {"name": "stab"}, "mark": {"type": "point", "opacity": 0},
    "encoding": {
     "x": {"field": "t", "type": "quantitative", "scale": {"type": "log", "domain": [0.5, 5600], "nice": false},
           "axis": {"orient": "top", "labels": false, "title": null, "values": [0.5,0.6,0.7,0.8,0.9,1,2,3,4,5,6,7,8,9,10,20,30,40,50,60,70,80,90,100,200,300,400,500,600,700,800,900,1000,2000,3000,4000,5000],
                    "tickSize": {"condition": {"test": "indexof([1,10,100,1000], datum.value) < 0", "value": -2.5}, "value": -4.5}}},
     "y": {"field": "p", "type": "quantitative", "scale": {"domain": [0, 18], "nice": false},
           "axis": {"orient": "right", "labels": false, "title": null, "values": [5,10,15], "tickSize": -4.5}}
    }}
  ],
  "resolve": {"scale": {"x": "independent", "y": "independent"}}
 },
 {
  "width": 294, "height": 216,
  "title": {"text": "d", "dx": -49},
  "layer": [
   {"layer": [
    {"mark": {"type": "rule", "strokeDash": [6, 4], "strokeWidth": 1.3, "color": "#222"},
     "encoding": {"y": {"datum": 15, "type": "quantitative", "title": "PCE (%)"}}},
    {"data": {"name": "heat"}, "mark": {"type": "line", "strokeWidth": 0.9},
     "encoding": {
      "x": {"field": "h", "type": "quantitative", "title": "Time (h)", "scale": {"domain": [-50, 550], "nice": false},
            "axis": {"labelOverlap": false, "values": [0,100,200,300,400,500], "format": "d", "tickSize": 4.5}},
      "y": {"field": "p", "type": "quantitative", "title": "PCE (%)", "scale": {"domain": [0, 17.5], "nice": false},
            "axis": {"labelOverlap": false, "titlePadding": 8, "values": [0,2.5,5,7.5,10,12.5,15,17.5], "labelExpr": "datum.value % 5 === 0 ? datum.value : ''", "tickSize": {"condition": {"test": "datum.value % 5 !== 0", "value": 3}, "value": 4.5}}},
      "stroke": {"field": "lab", "type": "nominal", "scale": {"domain": ["CQDs/G-PCBM 150 nm", "CQDs/PCBM 150 nm", "CQDs/PCBM 50 nm"], "range": ["#ee7070", "#7070ee", "#8ab87a"]}, "legend": null}
     }},
    {"data": {"name": "heat"},
     "mark": {"type": "point", "filled": true, "size": 64, "strokeWidth": 0, "opacity": 0},
     "encoding": {
      "x": {"field": "h", "type": "quantitative"},
      "y": {"field": "p", "type": "quantitative"},
      "fill": {"field": "lab", "type": "nominal", "scale": {"domain": ["CQDs/G-PCBM 150 nm", "CQDs/PCBM 150 nm", "CQDs/PCBM 50 nm"], "range": ["#d81e1e", "#1e1ee0", "#3f8a2e"]},
        "legend": {"title": "At 85 °C", "orient": "none", "legendX": 19, "legendY": 136, "symbolSize": 1156, "labelOffset": 5, "titlePadding": 0, "rowPadding": 0.5,
          "symbolType": "M-1,-0.03H-0.235V0.03H-1ZM0.235,-0.03H1V0.03H0.235ZM0.235,0A0.235,0.235 0 1 1 -0.235,0A0.235,0.235 0 1 1 0.235,0Z"}}
     }},
    {"data": {"name": "heat"},
     "mark": {"type": "point", "filled": true, "size": 64, "strokeWidth": 0, "opacity": 1},
     "encoding": {
      "x": {"field": "h", "type": "quantitative"},
      "y": {"field": "p", "type": "quantitative"},
      "fill": {"condition": [
          {"test": "datum.lab === 'CQDs/G-PCBM 150 nm'", "value": {"gradient":"radial","x1":0.4,"y1":0.3,"r1":0,"x2":0.5,"y2":0.5,"r2":0.5,"stops":[{"offset":0,"color":"#ffffff"},{"offset":0.2,"color":"#f4a0a0"},{"offset":0.45,"color":"#e02020"},{"offset":1,"color":"#a80808"}]}},
          {"test": "datum.lab === 'CQDs/PCBM 150 nm'", "value": {"gradient":"radial","x1":0.4,"y1":0.3,"r1":0,"x2":0.5,"y2":0.5,"r2":0.5,"stops":[{"offset":0,"color":"#ffffff"},{"offset":0.2,"color":"#a8a8f8"},{"offset":0.45,"color":"#2424e0"},{"offset":1,"color":"#0c0ca0"}]}}],
        "value": {"gradient":"radial","x1":0.4,"y1":0.3,"r1":0,"x2":0.5,"y2":0.5,"r2":0.5,"stops":[{"offset":0,"color":"#ffffff"},{"offset":0.2,"color":"#b8dca8"},{"offset":0.45,"color":"#4c9a3c"},{"offset":1,"color":"#2a6a1e"}]}}
     }}
   ],
   "resolve": {"scale": {"fill": "independent", "shape": "independent", "stroke": "independent"}, "legend": {"fill": "independent", "shape": "independent", "stroke": "independent"}}},
   {"data": {"name": "heat"}, "mark": {"type": "point", "opacity": 0},
    "encoding": {
     "x": {"field": "h", "type": "quantitative", "scale": {"domain": [-50, 550], "nice": false},
           "axis": {"orient": "top", "labels": false, "title": null, "values": [-50,0,50,100,150,200,250,300,350,400,450,500,550], "tickSize": -4.5}},
     "y": {"field": "p", "type": "quantitative", "scale": {"domain": [0, 17.5], "nice": false},
           "axis": {"orient": "right", "labels": false, "title": null, "values": [5,10,15], "tickSize": -4.5}}
    }}
  ],
  "resolve": {"scale": {"x": "independent", "y": "independent"}}
 }
]
}
